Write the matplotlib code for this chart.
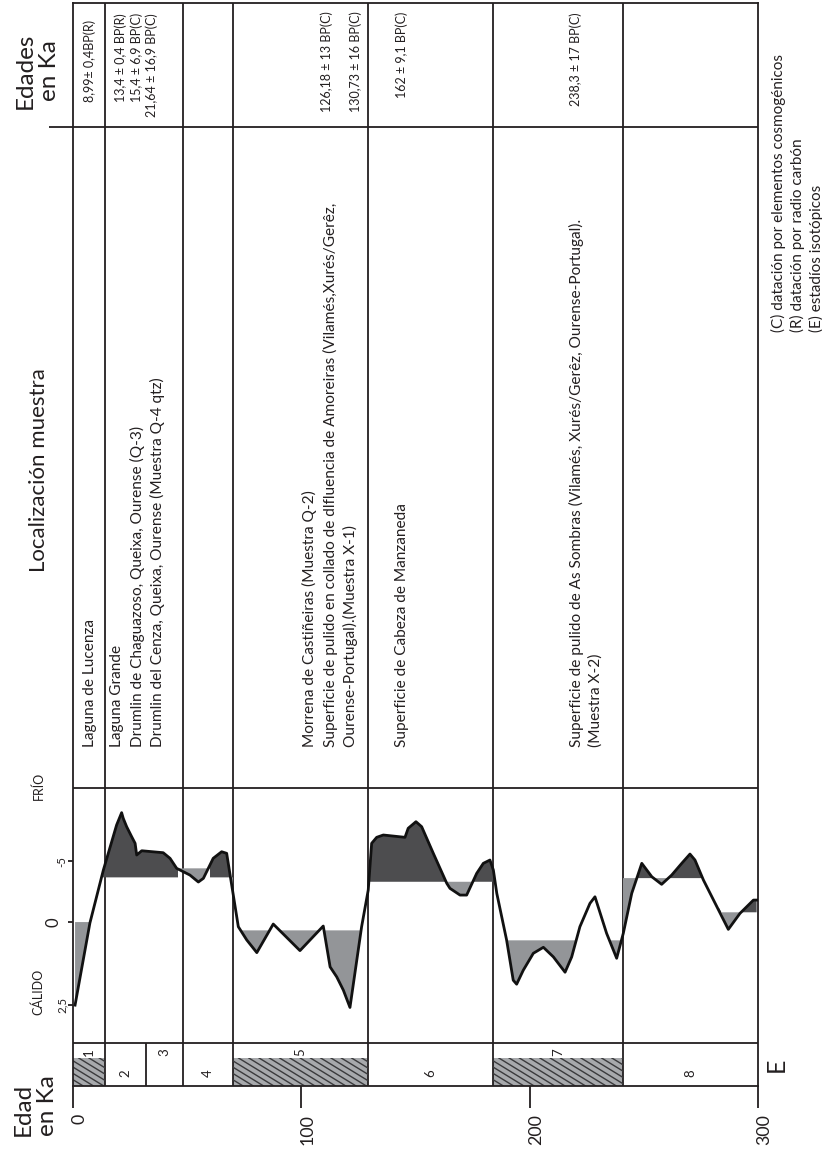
import numpy as np
import matplotlib
matplotlib.use("Agg")
import matplotlib.pyplot as plt
from matplotlib.patches import Rectangle
from matplotlib.transforms import ScaledTranslation

plt.rcParams['font.family'] = ['Lato', 'DejaVu Sans']

INK = '#231f20'
DARK = '#4d4d4f'
LIGHT = '#939598'
HATCH_BG = '#a7a9ac'

W, H = 822, 1156

# isotope stages (ka)
stage_edges = [0, 14, 32, 48, 70, 129, 184, 241, 300]
stage_names = ['1', '2', '3', '4', '5', '6', '7', '8']
hatched = ['1', '5', '7']
age_ticks = [0, 100, 200, 300]

# climate curve: age (ka) and value (2,5 warm ... -5 cold)
curve_age = [0.9, 7.4, 13.3, 19.1, 21.3, 22.0, 23.5, 25.7, 27.2, 27.9, 30.1,
             39.5, 42.5, 45.4, 51.2, 54.9, 57.1, 61.4, 65.1, 67.3, 72.4,
             76.1, 80.5, 87.7, 99.4, 109.6, 112.6, 115.5, 118.4, 121.3,
             126.4, 129.3, 130.8, 133.0, 135.9, 145.4, 146.8, 150.2, 152.7,
             157.8, 163.7, 165.1, 169.5, 172.4, 176.8, 179.7, 182.6, 184.1,
             185.6, 189.9, 192.8, 194.3, 197.2, 201.6, 206.0, 210.4, 215.5,
             218.4, 222.0, 226.4, 228.6, 233.7, 238.1, 241.0, 244.7, 249.1,
             253.5, 257.8, 262.2, 266.6, 270.2, 272.4, 276.1, 287.0, 292.1,
             298.0, 299.4]
curve_val = [2.5, 0.03, -4.26, -7.95, -8.96, -8.50, -7.81, -6.99, -6.45,
             -5.49, -5.84, -5.68, -5.22, -4.40, -3.85, -3.28, -3.58, -5.22,
             -5.76, -5.63, 0.14, 0.54, 0.92, 0.06, 0.86, 0.12, 1.35, 1.65,
             2.05, 2.57, 0.14, -2.62, -6.45, -6.94, -7.13, -6.94, -7.68,
             -8.22, -7.81, -5.63, -3.17, -2.76, -2.21, -2.21, -3.99, -4.81,
             -5.08, -4.26, -2.35, 0.54, 1.75, 1.87, 1.45, 0.94, 0.76, 1.05,
             1.51, 1.05, 0.14, -1.53, -2.07, 0.34, 1.09, 0.34, -2.35, -4.81,
             -3.71, -3.09, -3.85, -4.81, -5.57, -5.08, -3.44, 0.22, -0.71,
             -1.80, -1.80]
val_ticks = [2.5, 0, -5]
val_labels = ['2,5', '0', '-5']

# shading intervals: start, end, reference level, cold interval?
shade_start = [0, 13, 46, 60, 70, 129, 184, 241, 283]
shade_end = [13, 46, 60, 70, 129, 184, 241, 275.5, 300]
shade_level = [0.0, -3.66, -4.4, -3.66, 0.25, -3.3, 0.55, -3.6, -0.8]
shade_cold = [False, True, True, True, False, True, False, True, True]

# sample sites, one entry per printed line
site_x = [90, 117, 137.5, 157.5, 309, 330, 350, 402, 576, 596]
site_text = [
    'Laguna de Lucenza',
    'Laguna Grande',
    'Drumlin de Chaguazoso, Queixa, Ourense (Q-3)',
    'Drumlin del Cenza, Queixa, Ourense (Muestra Q-4 qtz)',
    'Morrena de Castiñeiras (Muestra Q-2)',
    'Superficie de pulido en collado de dlfluencia de Amoreiras (Vilamés,Xurés/Gerêz,',
    'Ourense-Portugal).(Muestra X-1)',
    'Superficie de Cabeza de Manzaneda',
    'Superficie de pulido de As Sombras (Vilamés, Xurés/Gerêz, Ourense-Portugal).',
    '(Muestra X-2)',
]
date_x = [90, 121, 137, 152, 327, 356, 402, 576]
date_top = [20, 13, 13, 13, 11, 11, 12, 12]
date_text = ['8,99± 0,4BP(R)', '13,4 ± 0,4 BP(R)', '15,4 ± 6,9 BP(C)',
             '21,64 ± 16,9 BP(C)', '126,18 ± 13 BP(C)', '130,73 ± 16 BP(C)',
             '162 ± 9,1 BP(C)', '238,3 ± 17 BP(C)']
notes = ['(C) datación por elementos cosmogénicos',
         '(R) datación por radio carbón',
         '(E) estadíos isotópicos']


def box(x0, y0, x1, y1):
    return [x0 / W, 1 - y1 / H, (x1 - x0) / W, (y1 - y0) / H]


fig = plt.figure(figsize=(W / 100, H / 100), dpi=100)

page = fig.add_axes([0, 0, 1, 1])
page.set_xlim(0, W)
page.set_ylim(H, 0)
page.axis('off')

# table frame: x in ka, y in pixel rows
ax = fig.add_axes(box(73, 3, 758, 1086))
ax.set_xlim(0, 300)
ax.set_ylim(1086, 3)
ax.patch.set_alpha(0)
for s in ax.spines.values():
    s.set_linewidth(1.3)
    s.set_color(INK)
ax.set_yticks([])
ax.set_xticks(age_ticks, [])
ax.tick_params(axis='x', direction='out', length=16, width=1.3, colors=INK)
shift = ScaledTranslation(0.065, 0, fig.dpi_scale_trans)
for t in age_ticks:
    ax.text(t, 1114, str(t), rotation=90, ha='center', va='top',
            fontsize=12.8, color=INK, transform=ax.transData + shift)

for e in stage_edges[1:-1]:
    top = 1043 if e == 32 else 3
    ax.vlines(e, top, 1086, color=INK, lw=1.3)
ax.hlines([788, 1043], 0, 300, color=INK, lw=1.3)
ax.hlines(127, -10.5, 300, color=INK, lw=1.3, clip_on=False)

# isotope stage column
for i, name in enumerate(stage_names):
    a0, a1 = stage_edges[i], stage_edges[i + 1]
    if name in hatched:
        rect = Rectangle((a0, 1058), a1 - a0, 28, facecolor=HATCH_BG,
                         edgecolor='none', zorder=1)
        ax.add_patch(rect)
        for k in range(-6, 40):
            x0 = a0 - 20 + k * 4.5
            ln, = ax.plot([x0, x0 + 20], [1058, 1086], color='#3a3a3c',
                          lw=1.0, zorder=2)
            ln.set_clip_path(rect)
    up = name in ['1', '3', '5', '7']
    ax.text((a0 + a1) / 2, 1052 if up else 1073, name, rotation=90,
            ha='center', va='center', fontsize=9.5, color=INK)


# climate curve on a two-slope value scale
def fwd(v):
    v = np.asarray(v, dtype=float)
    return np.where(v < 0, 12.2 * v, 33.2 * v)


def inv(u):
    u = np.asarray(u, dtype=float)
    return np.where(u < 0, u / 12.2, u / 33.2)


axc = fig.add_axes(box(73, 788, 758, 1043))
axc.patch.set_alpha(0)
axc.set_xlim(0, 300)
axc.set_yscale('function', functions=(fwd, inv))
axc.set_ylim(3.64, -10.98)
for s in axc.spines.values():
    s.set_visible(False)
axc.set_xticks([])

age = np.array(curve_age)
val = np.array(curve_val)
for a0, a1, lev, cold in zip(shade_start, shade_end, shade_level, shade_cold):
    clip = Rectangle((a0, -10.98), a1 - a0, 14.62, transform=axc.transData)
    warm = axc.fill_between(age, val, lev, where=val > lev, interpolate=True,
                            color=LIGHT, lw=0)
    warm.set_clip_path(clip)
    if cold:
        cool = axc.fill_between(age, val, lev, where=val < lev,
                                interpolate=True, color=DARK, lw=0)
        cool.set_clip_path(clip)
axc.plot(age, val, color='#111111', lw=2.0, solid_joinstyle='round')

axc.set_yticks(val_ticks, val_labels)
axc.tick_params(axis='y', direction='out', width=1.3, colors=INK,
                labelrotation=90)
for t, L, p, fs in zip(axc.yaxis.get_major_ticks(), [7.9, 16.6, 7.2],
                       [0.5, 5, 0.5], [8.3, 12, 8.3]):
    t.tick1line.set_markersize(L)
    t.set_pad(p)
    t.label1.set_fontsize(fs)
    t.label1.set_va('center')


# rotated text helper, page pixel coordinates
def put(x, y, s, size, **kw):
    page.text(x, y, s, fontsize=size, color=INK, rotation=90,
              rotation_mode='anchor', **kw)


put(37, 71, 'Edades\nen Ka', 17.5, ha='center', va='center',
    multialignment='center')
put(35, 1106, 'Edad\nen Ka', 17.5, ha='center', va='center',
    multialignment='left')
put(39, 470, 'Localización muestra', 16, ha='center', va='center')
put(38, 992, 'CÁLIDO', 9, ha='center', va='center')
put(39, 786, 'FRÍO', 9, ha='center', va='center')
put(776, 1065, 'E', 18, ha='center', va='center')

for x, s in zip(site_x, site_text):
    put(x, 747, s, 11.1, ha='left', va='center')
for x, y, s in zip(date_x, date_top, date_text):
    put(x, y, s, 9, ha='right', va='center')
for x, s in zip([778, 797, 816], notes):
    put(x, 332, s, 11, ha='left', va='center')

fig.savefig('out.png', dpi=100)
